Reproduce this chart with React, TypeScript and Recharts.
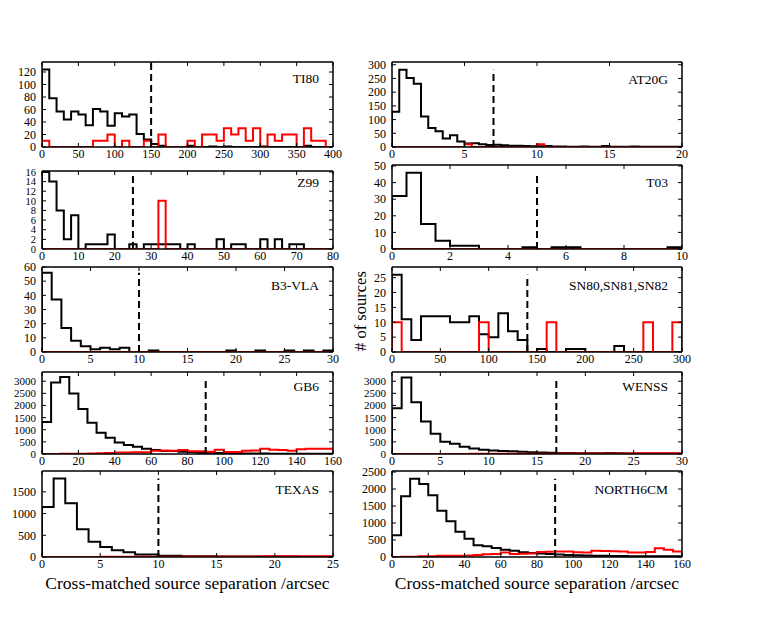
import React from 'react';
import { LineChart, Line, XAxis, YAxis, ReferenceLine } from 'recharts';

// counts per bin, bins start at 0 (black = matched, red = shifted/random)
const ti80Black = [124, 78, 57, 44, 57, 52, 35, 61, 57, 34, 54, 49, 52, 21, 12, 5, 2, 0, 0, 0, 2, 0, 0, 1, 0, 1, 0, 0, 0, 0, 1, 0, 0, 0, 0, 0, 2, 0, 0, 0];
const ti80Red = [10, 0, 0, 0, 0, 0, 0, 10, 10, 20, 0, 10, 0, 0, 10, 0, 20, 0, 0, 0, 10, 0, 20, 20, 10, 30, 20, 30, 10, 30, 0, 20, 10, 20, 20, 0, 30, 10, 10, 0];

const z99Black = [16, 14, 8, 2, 7, 0, 1, 1, 1, 3, 0, 0, 1, 0, 1, 1, 1, 1, 1, 0, 1, 0, 0, 0, 2, 0, 1, 1, 0, 0, 2, 0, 2, 0, 1, 1, 0, 0, 0, 0];
const z99Red = [0, 0, 0, 0, 0, 0, 0, 0, 0, 0, 0, 0, 0, 0, 0, 0, 10, 0, 0, 0, 0, 0, 0, 0, 0, 0, 0, 0, 0, 0, 0, 0, 0, 0, 0, 0, 0, 0, 0, 0];

const b3Black = [56, 37, 17, 8, 4, 2, 3, 2, 3, 0, 0, 1, 0, 0, 0, 0, 0, 0, 0, 1, 0, 0, 1, 0, 0, 1, 0, 1, 0, 1];
const b3Red = [0, 0, 0, 0, 0, 0, 0, 0, 0, 0, 0, 0, 0, 0, 0, 0, 0, 0, 0, 0, 0, 0, 0, 0, 0, 0, 0, 0, 0, 0];

const gb6Black = [1320, 2950, 3170, 2490, 1850, 1290, 880, 670, 470, 370, 300, 220, 160, 125, 120, 95, 80, 55, 55, 40, 35, 30, 25, 20, 20, 15, 15, 10, 10, 10, 10, 10];
const gb6Red = [0, 5, 10, 10, 15, 20, 35, 45, 60, 65, 70, 70, 130, 140, 135, 160, 110, 110, 95, 175, 80, 85, 135, 140, 215, 175, 170, 135, 200, 215, 220, 215];

const texasBlack = [1150, 1810, 1240, 640, 350, 230, 155, 110, 60, 55, 30, 30, 20, 15, 15, 10, 10, 10, 10, 10, 10, 10, 8, 8, 5];
const texasRed = [0, 0, 0, 0, 0, 3, 4, 5, 6, 6, 8, 8, 9, 10, 10, 12, 12, 13, 14, 15, 15, 16, 18, 18, 20];

const at20gBlack = [129, 282, 252, 231, 111, 69, 57, 31, 43, 20, 13, 14, 10, 7, 8, 6, 5, 5, 4, 3, 3, 4, 2, 2, 1, 1, 2, 1, 1, 4, 1, 1, 1, 2, 1, 1, 1, 1, 1, 1];
const at20gRed = [0, 0, 0, 0, 0, 0, 0, 0, 0, 0, 10, 0, 0, 0, 0, 0, 0, 0, 0, 0, 10, 0, 0, 0, 0, 0, 0, 0, 0, 0, 0, 0, 0, 0, 0, 0, 0, 0, 0, 0];

const t03Black = [32, 46, 15, 5, 2, 2, 0, 0, 0, 1, 0, 1, 1, 0, 0, 0, 0, 0, 0, 1];
const t03Red = [0, 0, 0, 0, 0, 0, 0, 0, 0, 0, 0, 0, 0, 0, 0, 0, 0, 0, 0, 0];

const snBlack = [26, 11, 4, 12, 12, 12, 10, 10, 12, 6, 5, 13, 7, 4, 0, 1, 0, 0, 1, 1, 0, 0, 0, 2, 0, 0, 0, 0, 0, 0];
const snRed = [10, 0, 0, 0, 0, 0, 0, 0, 0, 10, 0, 0, 0, 0, 0, 0, 10, 0, 0, 0, 0, 0, 0, 0, 0, 0, 10, 0, 0, 10];

const wenssBlack = [1890, 3150, 2130, 1340, 830, 510, 420, 300, 230, 180, 140, 125, 110, 90, 75, 65, 55, 45, 40, 35, 35, 30, 40, 30, 25, 25, 20, 20, 20, 20];
const wenssRed = [0, 0, 1, 2, 2, 4, 5, 5, 7, 8, 8, 10, 12, 11, 14, 15, 15, 18, 17, 20, 22, 21, 24, 25, 24, 27, 29, 28, 31, 32];

const n6Black = [640, 1790, 2300, 2150, 1820, 1360, 1050, 740, 540, 345, 315, 265, 215, 185, 140, 120, 100, 90, 70, 60, 50, 45, 40, 35, 30, 30, 25, 25, 20, 20, 20, 20];
const n6Red = [0, 5, 10, 20, 25, 35, 40, 40, 45, 60, 80, 85, 130, 90, 95, 100, 150, 155, 160, 160, 140, 135, 185, 180, 170, 165, 130, 130, 150, 255, 215, 165];

// tick labels
const ti80XTicks = [0, 50, 100, 150, 200, 250, 300, 350, 400];
const ti80YTicks = [0, 20, 40, 60, 80, 100, 120];
const z99XTicks = [0, 10, 20, 30, 40, 50, 60, 70, 80];
const z99YTicks = [0, 2, 4, 6, 8, 10, 12, 14, 16];
const b3XTicks = [0, 5, 10, 15, 20, 25, 30];
const b3YTicks = [0, 10, 20, 30, 40, 50, 60];
const gb6XTicks = [0, 20, 40, 60, 80, 100, 120, 140, 160];
const gb6YTicks = [0, 500, 1000, 1500, 2000, 2500, 3000];
const texasXTicks = [0, 5, 10, 15, 20, 25];
const texasYTicks = [0, 500, 1000, 1500];
const at20gXTicks = [0, 5, 10, 15, 20];
const at20gYTicks = [0, 50, 100, 150, 200, 250, 300];
const t03XTicks = [0, 2, 4, 6, 8, 10];
const t03YTicks = [0, 10, 20, 30, 40, 50];
const snXTicks = [0, 50, 100, 150, 200, 250, 300];
const snYTicks = [0, 5, 10, 15, 20, 25];
const wenssXTicks = [0, 5, 10, 15, 20, 25, 30];
const wenssYTicks = [0, 500, 1000, 1500, 2000, 2500, 3000];
const n6XTicks = [0, 20, 40, 60, 80, 100, 120, 140, 160];
const n6YTicks = [0, 500, 1000, 1500, 2000, 2500];

const FONT = "'Liberation Serif', 'DejaVu Serif', serif";
const Y_W = 40;
const X_H = 24;
const M_TOP = 8;
const M_RIGHT = 12;

type Panel = {
  name: string;
  binW: number;
  black: number[];
  red: number[];
  cut: number;
  cutTop: number;
  xMax: number;
  yMax: number;
  xTicks: number[];
  yTicks: number[];
  x: number;
  y: number;
  w: number;
  h: number;
  titleY: number;
  tickFont?: number;
};

const LEFT_X = 42;
const RIGHT_X = 392;

const panels: Panel[] = [
  { name: 'TI80', binW: 10, black: ti80Black, red: ti80Red, cut: 150, cutTop: 136, xMax: 400, yMax: 136, xTicks: ti80XTicks, yTicks: ti80YTicks, x: LEFT_X, y: 62, w: 291, h: 85, titleY: 83 },
  { name: 'Z99', binW: 2, black: z99Black, red: z99Red, cut: 25, cutTop: 16, xMax: 80, yMax: 16.2, xTicks: z99XTicks, yTicks: z99YTicks, x: LEFT_X, y: 171, w: 291, h: 78, titleY: 187, tickFont: 10.5 },
  { name: 'B3-VLA', binW: 1, black: b3Black, red: b3Red, cut: 10, cutTop: 56, xMax: 30, yMax: 60, xTicks: b3XTicks, yTicks: b3YTicks, x: LEFT_X, y: 267, w: 291, h: 85, titleY: 290 },
  { name: 'GB6', binW: 5, black: gb6Black, red: gb6Red, cut: 90, cutTop: 3170, xMax: 160, yMax: 3380, xTicks: gb6XTicks, yTicks: gb6YTicks, x: LEFT_X, y: 372, w: 291, h: 82, titleY: 391, tickFont: 11 },
  { name: 'TEXAS', binW: 1, black: texasBlack, red: texasRed, cut: 10, cutTop: 1810, xMax: 25, yMax: 1980, xTicks: texasXTicks, yTicks: texasYTicks, x: LEFT_X, y: 471, w: 291, h: 86, titleY: 494 },
  { name: 'AT20G', binW: 0.5, black: at20gBlack, red: at20gRed, cut: 7, cutTop: 282, xMax: 20, yMax: 310, xTicks: at20gXTicks, yTicks: at20gYTicks, x: RIGHT_X, y: 62, w: 290, h: 85, titleY: 84 },
  { name: 'T03', binW: 0.5, black: t03Black, red: t03Red, cut: 5, cutTop: 46, xMax: 10, yMax: 50.6, xTicks: t03XTicks, yTicks: t03YTicks, x: RIGHT_X, y: 165, w: 290, h: 84, titleY: 187 },
  { name: 'SN80,SN81,SN82', binW: 10, black: snBlack, red: snRed, cut: 140, cutTop: 26, xMax: 300, yMax: 28.6, xTicks: snXTicks, yTicks: snYTicks, x: RIGHT_X, y: 267, w: 290, h: 85, titleY: 290 },
  { name: 'WENSS', binW: 1, black: wenssBlack, red: wenssRed, cut: 17, cutTop: 3150, xMax: 30, yMax: 3380, xTicks: wenssXTicks, yTicks: wenssYTicks, x: RIGHT_X, y: 372, w: 290, h: 82, titleY: 391, tickFont: 11 },
  { name: 'NORTH6CM', binW: 5, black: n6Black, red: n6Red, cut: 90, cutTop: 2300, xMax: 160, yMax: 2530, xTicks: n6XTicks, yTicks: n6YTicks, x: RIGHT_X, y: 471, w: 290, h: 86, titleY: 494 },
];

// outline of a step histogram: up from 0 at the first edge, down to 0 at the last
function stepRows(binW: number, black: number[], red: number[]) {
  const n = black.length;
  const rows = [{ x: 0, k: 0, r: 0 }];
  for (let i = 0; i < n; i++) rows.push({ x: i * binW, k: black[i], r: red[i] });
  rows.push({ x: n * binW, k: black[n - 1], r: red[n - 1] });
  rows.push({ x: n * binW, k: 0, r: 0 });
  return rows;
}

const blank = () => '';
const frame = { stroke: '#000', strokeWidth: 1.5 };
const tickLn = { stroke: '#000', strokeWidth: 1 };

function HistPanel({ p }: { p: Panel }) {
  const data = stepRows(p.binW, p.black, p.red);
  const width = Y_W + p.w + 1 + M_RIGHT;
  const height = M_TOP + 1 + p.h + X_H;
  const tickStyle = { fontFamily: FONT, fontSize: 12, fill: '#000' };
  const yTickStyle = { ...tickStyle, fontSize: p.tickFont ?? 12 };
  return (
    <div style={{ position: 'absolute', left: p.x - Y_W, top: p.y - 1 - M_TOP }}>
      <LineChart width={width} height={height} data={data} margin={{ top: M_TOP, right: M_RIGHT, left: 0, bottom: 0 }}>
        <XAxis xAxisId="b" dataKey="x" type="number" domain={[0, p.xMax]} ticks={p.xTicks} interval={0}
          allowDataOverflow height={X_H} tickSize={-4} tickMargin={6} tick={tickStyle} axisLine={frame} tickLine={tickLn} />
        <XAxis xAxisId="t" orientation="top" dataKey="x" type="number" domain={[0, p.xMax]} ticks={p.xTicks} interval={0}
          allowDataOverflow height={1} tickSize={-4} tickFormatter={blank} axisLine={frame} tickLine={tickLn} />
        <YAxis yAxisId="l" type="number" domain={[0, p.yMax]} ticks={p.yTicks} interval={0}
          allowDataOverflow width={Y_W} tickSize={-4} tickMargin={10} tick={yTickStyle} axisLine={frame} tickLine={tickLn} />
        <YAxis yAxisId="r" orientation="right" type="number" domain={[0, p.yMax]} ticks={p.yTicks} interval={0}
          allowDataOverflow width={1} tickSize={-4} tickFormatter={blank} axisLine={frame} tickLine={tickLn} />
        <Line xAxisId="b" yAxisId="l" type="stepAfter" dataKey="k" stroke="#000" strokeWidth={2}
          dot={false} activeDot={false} isAnimationActive={false} />
        <Line xAxisId="t" yAxisId="r" type="stepAfter" dataKey="r" stroke="#ff0000" strokeWidth={2}
          dot={false} activeDot={false} isAnimationActive={false} />
        <ReferenceLine xAxisId="b" yAxisId="l" segment={[{ x: p.cut, y: 0 }, { x: p.cut, y: p.cutTop }]}
          stroke="#000" strokeWidth={2} strokeDasharray="7 4" />
      </LineChart>
    </div>
  );
}

export default function App() {
  return (
    <div style={{ position: 'absolute', left: 0, top: 0, width: 765, height: 619, background: '#fff' }}>
      {panels.map(p => <HistPanel key={p.name} p={p} />)}
      <svg width={765} height={619} style={{ position: 'absolute', left: 0, top: 0, pointerEvents: 'none' }}>
        {panels.map(p => (
          <text key={p.name} x={p.x + p.w - 14} y={p.titleY} textAnchor="end"
            fontFamily={FONT} fontSize={13.5} fill="#000">{p.name}</text>
        ))}
        <text x={187.5} y={589} textAnchor="middle" fontFamily={FONT} fontSize={17.5} fill="#000">
          Cross-matched source separation /arcsec
        </text>
        <text x={537} y={589} textAnchor="middle" fontFamily={FONT} fontSize={17.5} fill="#000">
          Cross-matched source separation /arcsec
        </text>
        <text x={366} y={311} textAnchor="middle" transform="rotate(-90 366 311)"
          fontFamily={FONT} fontSize={16.5} fill="#000"># of sources</text>
      </svg>
    </div>
  );
}
